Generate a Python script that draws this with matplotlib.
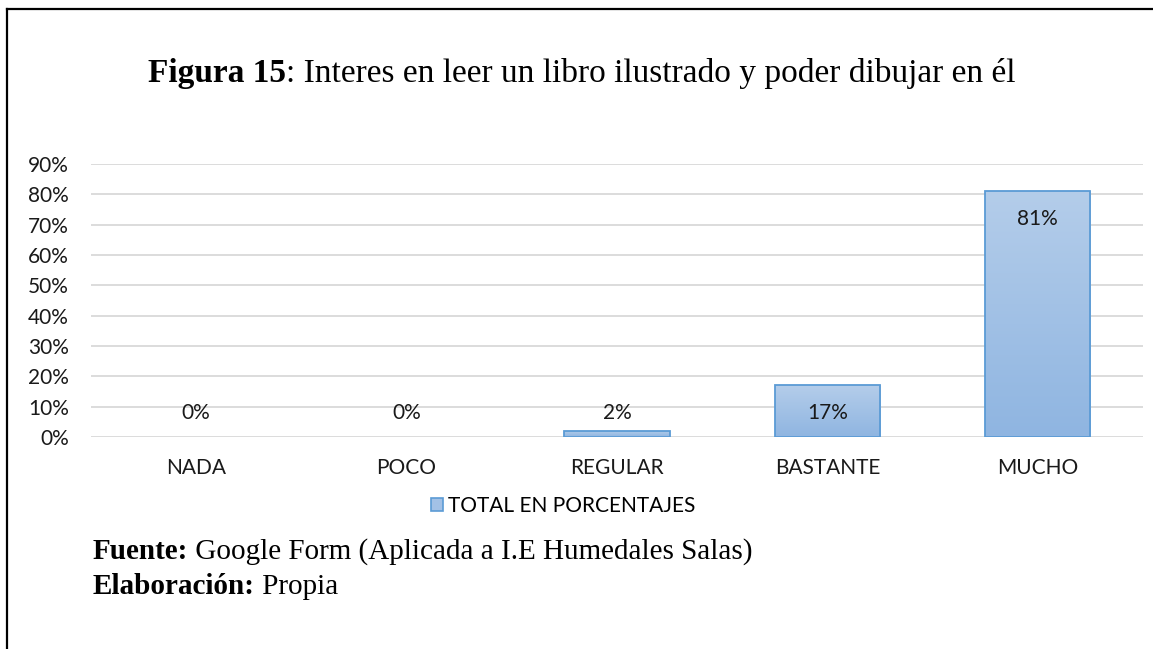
import numpy as np
import matplotlib
matplotlib.use('Agg')
import matplotlib.pyplot as plt
from matplotlib.patches import Patch
from matplotlib.lines import Line2D

categories = ['NADA', 'POCO', 'REGULAR', 'BASTANTE', 'MUCHO']
values = [0, 0, 2, 17, 81]
yticks = [0, 10, 20, 30, 40, 50, 60, 70, 80, 90]
legend_label = 'TOTAL EN PORCENTAJES'

sans = 'Lato'
serif = 'Liberation Serif'
W, H = 1153, 649

fig = plt.figure(figsize=(W / 100, H / 100), dpi=100)
ax = fig.add_axes([91 / W, 1 - 437 / H, (1143 - 91) / W, (437 - 164) / H])

x = np.arange(len(categories))
bars = ax.bar(x, values, width=0.5, color='none', edgecolor='#5b9bd5', linewidth=1.3, zorder=3)

# vertical gradient inside each bar
grad = np.linspace(0, 1, 256).reshape(-1, 1)
cmap = matplotlib.colors.LinearSegmentedColormap.from_list('g', ['#8fb5e1', '#b4cdea'])
for b in bars:
    if b.get_height() <= 0:
        b.set_visible(False)
        continue
    im = ax.imshow(grad, cmap=cmap, origin='lower', aspect='auto', zorder=2,
                   extent=[b.get_x(), b.get_x() + b.get_width(), 0, b.get_height()])
    im.set_clip_path(b)

ax.set_xlim(-0.5, len(categories) - 0.5)
ax.set_ylim(0, 90)
ax.set_yticks(yticks)
ax.set_yticklabels(['%d%%' % t for t in yticks])
ax.set_xticks(x)
ax.set_xticklabels(categories)
ax.grid(axis='y', color='#d9d9d9', linewidth=1.3, zorder=0)
ax.set_axisbelow(True)
for s in ax.spines.values():
    s.set_visible(False)
ax.tick_params(axis='both', length=0, labelsize=15, labelcolor='#1a1a1a')
ax.tick_params(axis='y', pad=16)
ax.tick_params(axis='x', pad=15)
for lbl in ax.get_xticklabels() + ax.get_yticklabels():
    lbl.set_family(sans)

for xi, v in zip(x, values):
    ax.text(xi, max(v - 9, 7.9), '%d%%' % v, ha='center', va='center',
            fontsize=15, family=sans, color='#1a1a1a', zorder=4)

handle = Patch(facecolor='#a3c1e6', edgecolor='#5b9bd5', linewidth=1.2)
fig.legend([handle], [legend_label], loc='center', bbox_to_anchor=(563 / W, 1 - 506 / H),
           frameon=False, handlelength=0.6, handleheight=0.6, handletextpad=0.2,
           prop={'family': sans, 'size': 15})

# title and notes: bold lead followed by regular text
renderer = fig.canvas.get_renderer()

def mixed(xp, yp, bold, rest, size):
    t = fig.text(xp / W, 1 - yp / H, bold, family=serif, weight='bold', fontsize=size,
                 va='baseline', ha='left')
    bb = t.get_window_extent(renderer)
    fig.text(bb.x1 / W, 1 - yp / H, rest, family=serif, fontsize=size, va='baseline', ha='left')

mixed(148, 82, 'Figura 15', ': Interes en leer un libro ilustrado y poder dibujar en él', 24)
mixed(93, 559, 'Fuente:', ' Google Form (Aplicada a I.E Humedales Salas)', 21)
mixed(93, 594, 'Elaboración:', ' Propia', 21)

# border lines on left and top
fig.add_artist(Line2D([7 / W, 7 / W], [0, 1 - 9 / H], color='black', linewidth=1.6))
fig.add_artist(Line2D([7 / W, 1], [1 - 9 / H, 1 - 9 / H], color='black', linewidth=1.6))

fig.savefig('out.png', dpi=100)
